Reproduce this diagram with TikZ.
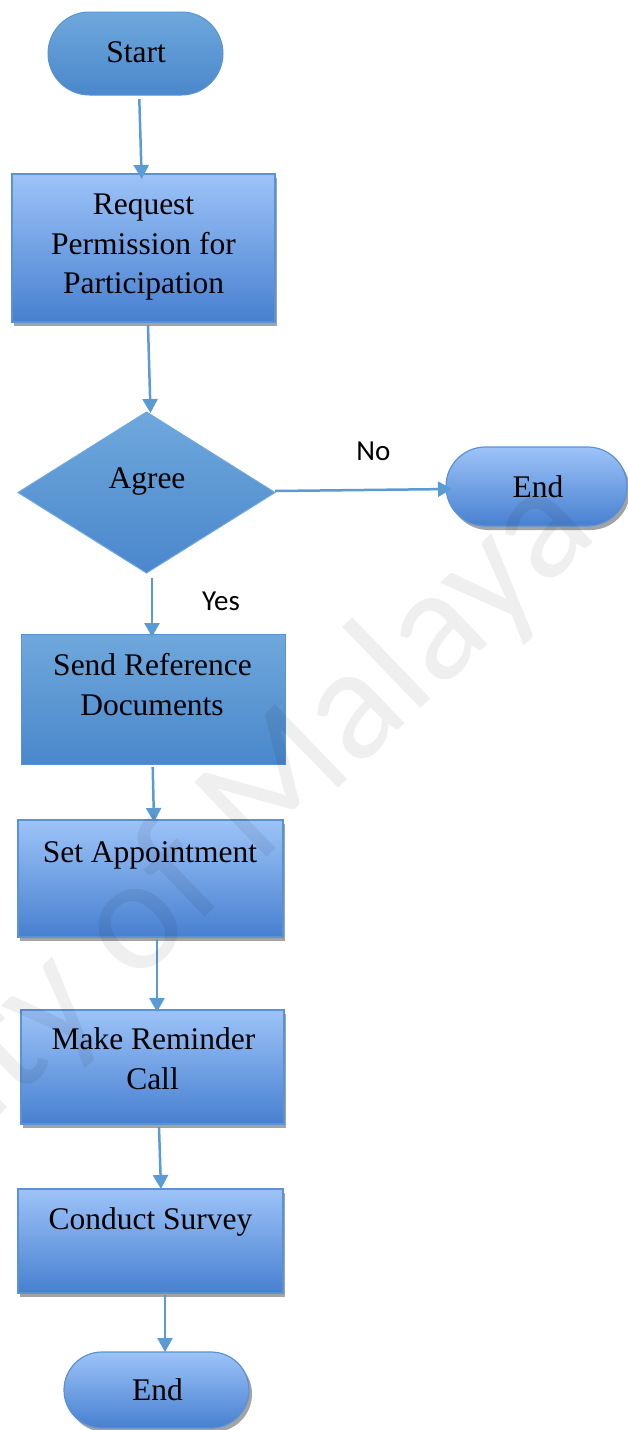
\documentclass[tikz,border=0pt]{standalone}
\usepackage{fontspec}
\setmainfont{Liberation Serif}
\newfontfamily\labelfont{Carlito}
\usetikzlibrary{arrows.meta,shapes.geometric,shadows}

\definecolor{lineblue}{HTML}{5B9BD5}
\definecolor{edgeblue}{HTML}{5A93D3}
\definecolor{midtop}{HTML}{6FA8DC}
\definecolor{midbot}{HTML}{4A87CC}
\definecolor{lighttop}{HTML}{9DC3F8}
\definecolor{lightbot}{HTML}{4780D0}
\definecolor{shadowgray}{HTML}{A3A3A3}

\begin{document}
\begin{tikzpicture}[x=1pt,y=-1pt,
  every node/.style={inner sep=0pt,outer sep=0pt},
  midfill/.style={top color=midtop,bottom color=midbot,draw=edgeblue,line width=1pt},
  lightfill/.style={top color=lighttop,bottom color=lightbot,draw=edgeblue,line width=1.2pt},
  stepbox/.style={lightfill,rectangle,
    drop shadow={shadow xshift=1.5pt,shadow yshift=-3.5pt,fill=shadowgray,opacity=1}},
  endshape/.style={lightfill,rectangle,
    drop shadow={shadow xshift=3pt,shadow yshift=-4pt,fill=black!45,opacity=0.8}},
  boxtext/.style={font=\fontsize{31.5}{39.5}\selectfont,anchor=base},
  flowlabel/.style={font=\labelfont\fontsize{29}{34}\selectfont,anchor=base},
  flow/.style={draw=lineblue,line width=2.5pt,-{Triangle[width=15pt,length=14pt]}}
]
\useasboundingbox (0,0) rectangle (628,1430);

% terminals, process boxes and the decision
\node[midfill,rectangle,rounded corners=41.5pt,minimum width=175pt,minimum height=83pt] (start) at (135.5,53.5) {};
\node[stepbox,minimum width=263pt,minimum height=148pt] (req) at (143.5,248) {};
\node[midfill,diamond,draw=midtop,minimum width=257pt,minimum height=161pt] (agree) at (146.5,492.5) {};
\node[endshape,rounded corners=39.5pt,minimum width=181pt,minimum height=79pt] (endr) at (536.5,486.5) {};
\node[midfill,rectangle,minimum width=264pt,minimum height=130pt] (send) at (153,699) {};
\node[stepbox,minimum width=265pt,minimum height=117pt] (set) at (150.5,878.5) {};
\node[stepbox,minimum width=263pt,minimum height=114pt] (make) at (152.5,1067) {};
\node[stepbox,minimum width=265pt,minimum height=104pt] (conduct) at (150.5,1241) {};
\node[endshape,rounded corners=38pt,minimum width=185pt,minimum height=76pt] (endb) at (156.5,1390) {};

% texts inside the shapes
\node[boxtext] (startT) at (136,62) {Start};
\node[boxtext] (reqA) at (143.5,214) {Request};
\node[boxtext] (reqB) at (143.5,254) {Permission for};
\node[boxtext] (reqC) at (143.5,293) {Participation};
\node[boxtext] (agreeT) at (147,488) {Agree};
\node[boxtext] (endrT) at (538,497) {End};
\node[boxtext] (sendA) at (152.5,675) {Send Reference};
\node[boxtext] (sendB) at (152,715) {Documents};
\node[boxtext] (setT) at (150,862) {Set Appointment};
\node[boxtext] (makeA) at (153.5,1049) {Make Reminder};
\node[boxtext] (makeB) at (152.5,1089) {Call};
\node[boxtext] (conductT) at (150.5,1229) {Conduct Survey};
\node[boxtext] (endbT) at (157.5,1400) {End};

% branch labels
\node[flowlabel] (nolbl) at (373.5,460) {No};
\node[flowlabel] (yeslbl) at (221,610) {Yes};

% connectors
\draw[flow] ([xshift=3.8pt,yshift=-4pt]start.south) -- ([xshift=-1.8pt,yshift=-5pt]req.north);
\draw[flow] ([xshift=4.5pt,yshift=-3pt]req.south) -- ([xshift=4pt,yshift=-1pt]agree.north);
\draw[flow] ([yshift=1.5pt]agree.east) -- ([xshift=6pt,yshift=-2.5pt]endr.west);
\draw[flow] ([xshift=5.5pt,yshift=-5pt]agree.south) -- ([xshift=-1pt,yshift=-3pt]send.north);
\draw[flow] ([xshift=-0.3pt,yshift=-3pt]send.south) -- ([xshift=3.5pt,yshift=-2pt]set.north);
\draw[flow] ([xshift=6.5pt,yshift=-2pt]set.south) -- ([xshift=4.5pt,yshift=-2pt]make.north);
\draw[flow] ([xshift=6.5pt,yshift=-3pt]make.south) -- ([xshift=10.5pt]conduct.north);
\draw[flow] ([xshift=14.5pt,yshift=-2pt]conduct.south) -- ([xshift=8.5pt]endb.north);

% faint diagonal watermark
\node[rotate=44,anchor=base east,font=\labelfont\fontsize{162}{162}\selectfont,
      text=black,text opacity=0.063] (mark) at (600,536) {University of Malaya};
\end{tikzpicture}
\end{document}
